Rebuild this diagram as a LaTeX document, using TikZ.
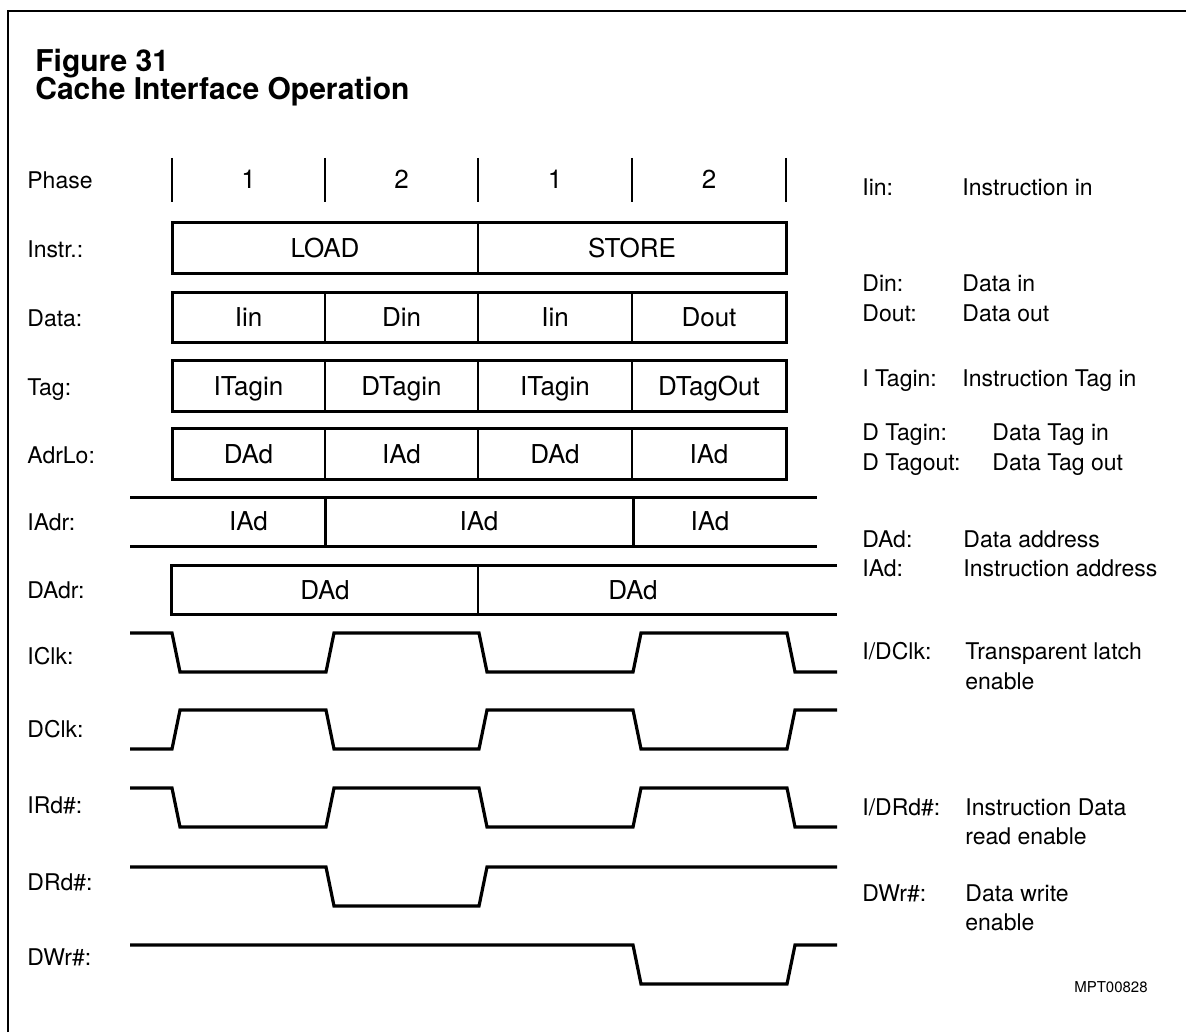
\documentclass[tikz,border=0pt]{standalone}
\usepackage{fontspec}
\setmainfont{TeX Gyre Heros}
\begin{document}
\begin{tikzpicture}[x=0.5pt,y=-0.5pt,
  title/.style={anchor=base west,inner sep=0,font=\fontsize{15}{17}\selectfont\bfseries},
  lbl/.style={anchor=base west,inner sep=0,font=\fontsize{11.5}{13}\selectfont},
  cell/.style={anchor=base,inner sep=0,font=\fontsize{13}{15}\selectfont},
  leg/.style={anchor=base west,inner sep=0,font=\fontsize{11.5}{13}\selectfont},
  code/.style={anchor=base east,inner sep=0,font=\fontsize{7.5}{9}\selectfont},
  outer/.style={line width=1.5pt},
  divider/.style={line width=1.1pt},
  bus/.style={line width=1.5pt},
  wave/.style={line width=1.6pt,line join=miter},
  frame/.style={line width=1pt},
  tick/.style={line width=1pt}]
\useasboundingbox (0,0) rectangle (1186,1032);
% frame
\draw[frame] (8,1032) -- (8,11) -- (1186,11);
% title
\node[title] (t1) at (35,72) {Figure 31};
\node[title] (t2) at (35,100) {Cache Interface Operation};
% left labels
\node[lbl] (lPhase) at (27,189) {Phase};
\node[lbl] (lInstr) at (27,257) {Instr.:};
\node[lbl] (lData) at (27,326) {Data:};
\node[lbl] (lTag) at (27,395) {Tag:};
\node[lbl] (lAdrLo) at (27,463) {AdrLo:};
\node[lbl] (lIAdr) at (27,530) {IAdr:};
\node[lbl] (lDAdr) at (27,598) {DAdr:};
\node[lbl] (lIClk) at (27,664) {IClk:};
\node[lbl] (lDClk) at (27,737) {DClk:};
\node[lbl] (lIRd) at (27,813) {IRd\#:};
\node[lbl] (lDRd) at (27,890) {DRd\#:};
\node[lbl] (lDWr) at (27,965) {DWr\#:};
% phase row
\foreach \x in {172,325,478,632,786} \draw[tick] (\x,158) -- (\x,202);
\node[cell] (p1) at (248.5,189) {1};
\node[cell] (p2) at (401.5,189) {2};
\node[cell] (p3) at (555,189) {1};
\node[cell] (p4) at (709,189) {2};
% Instr
\draw[divider] (478,222) -- (478,273);
\draw[outer] (172,222) rectangle (786,273);
\node[cell] (iLoad) at (325,257) {LOAD};
\node[cell] (iStore) at (632,257) {STORE};
% Data
\foreach \x in {325,478,632} \draw[divider] (\x,292) -- (\x,342);
\draw[outer] (172,292) rectangle (786,342);
\node[cell] (d1) at (248.5,326) {Iin};
\node[cell] (d2) at (401.5,326) {Din};
\node[cell] (d3) at (555,326) {Iin};
\node[cell] (d4) at (709,326) {Dout};
% Tag
\foreach \x in {325,478,632} \draw[divider] (\x,360) -- (\x,411);
\draw[outer] (172,360) rectangle (786,411);
\node[cell] (g1) at (248.5,395) {ITagin};
\node[cell] (g2) at (401.5,395) {DTagin};
\node[cell] (g3) at (555,395) {ITagin};
\node[cell] (g4) at (709,395) {DTagOut};
% AdrLo
\foreach \x in {325,478,632} \draw[divider] (\x,428) -- (\x,479);
\draw[outer] (172,428) rectangle (786,479);
\node[cell] (a1) at (248.5,463) {DAd};
\node[cell] (a2) at (401.5,463) {IAd};
\node[cell] (a3) at (555,463) {DAd};
\node[cell] (a4) at (709,463) {IAd};
% IAdr
\draw[bus] (130,497) -- (817,497);
\draw[bus] (130,546) -- (817,546);
\draw[bus] (325,497) -- (325,546);
\draw[bus] (633,497) -- (633,546);
\node[cell] (ia1) at (248.5,530) {IAd};
\node[cell] (ia2) at (479,530) {IAd};
\node[cell] (ia3) at (710,530) {IAd};
% DAdr
\draw[bus] (837,565) -- (171,565) -- (171,614) -- (837,614);
\draw[divider] (478,565) -- (478,614);
\node[cell] (da1) at (325,599) {DAd};
\node[cell] (da2) at (633,599) {DAd};
% ICLK
\draw[wave] (130,633) -- (172,633) -- (180,672) -- (326,672) -- (334,633) -- (479,633) -- (487,672) -- (633,672) -- (641,633) -- (787,633) -- (795,672) -- (837,672);
% DClk
\draw[wave] (130,749) -- (172,749) -- (180,710) -- (326,710) -- (334,749) -- (479,749) -- (487,710) -- (633,710) -- (641,749) -- (787,749) -- (795,710) -- (837,710);
% IRd#
\draw[wave] (130,788) -- (172,788) -- (180,827) -- (326,827) -- (334,788) -- (479,788) -- (487,827) -- (633,827) -- (641,788) -- (787,788) -- (795,827) -- (837,827);
% DRd#
\draw[wave] (130,867) -- (326,867) -- (334,906) -- (479,906) -- (487,867) -- (837,867);
% DWr#
\draw[wave] (130,945) -- (633,945) -- (641,984) -- (787,984) -- (795,945) -- (837,945);
% legend
\node[leg] (k1) at (862,195) {Iin:};
\node[leg] (k1t) at (962,195) {Instruction in};
\node[leg] (k2) at (862,291) {Din:};
\node[leg] (k2t) at (962,291) {Data in};
\node[leg] (k3) at (862,321) {Dout:};
\node[leg] (k3t) at (962,321) {Data out};
\node[leg] (k4) at (862,386) {I Tagin:};
\node[leg] (k4t) at (962,386) {Instruction Tag in};
\node[leg] (k5) at (862,440) {D Tagin:};
\node[leg] (k5t) at (992,440) {Data Tag in};
\node[leg] (k6) at (862,470) {D Tagout:};
\node[leg] (k6t) at (992,470) {Data Tag out};
\node[leg] (k7) at (862,547) {DAd:};
\node[leg] (k7t) at (963,547) {Data address};
\node[leg] (k8) at (862,576) {IAd:};
\node[leg] (k8t) at (963,576) {Instruction address};
\node[leg] (k9) at (862,659) {I/DClk:};
\node[leg] (k9t) at (965,659) {Transparent latch};
\node[leg] (k9u) at (965,689) {enable};
\node[leg] (k10) at (862,815) {I/DRd\#:};
\node[leg] (k10t) at (965,815) {Instruction Data};
\node[leg] (k10u) at (965,844) {read enable};
\node[leg] (k11) at (862,901) {DWr\#:};
\node[leg] (k11t) at (965,901) {Data write};
\node[leg] (k11u) at (965,930) {enable};
\node[code] (mpt) at (1148,992) {MPT00828};
\end{tikzpicture}
\end{document}
